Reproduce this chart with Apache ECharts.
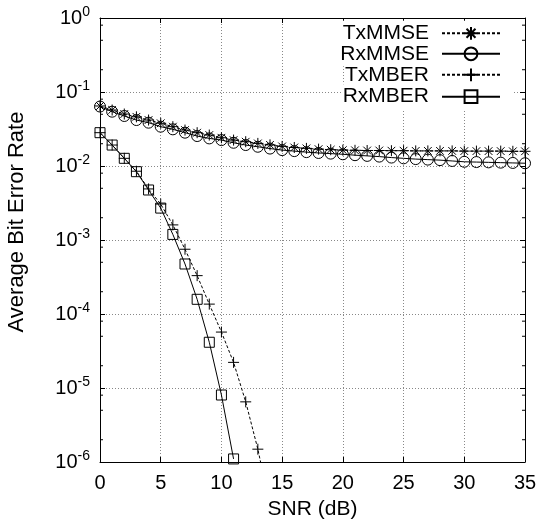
<!DOCTYPE html>
<html><head><meta charset="utf-8">
<script src="https://cdn.jsdelivr.net/npm/echarts@6/dist/echarts.min.js"></script>
<style>html,body{margin:0;padding:0;background:#fff}#c{width:540px;height:526px}</style>
</head><body><div id="c"></div>
<script>
// ---- data ----
const snrMMSE = [0,1,2,3,4,5,6,7,8,9,10,11,12,13,14,15,16,17,18,19,20,21,22,23,24,25,26,27,28,29,30,31,32,33,34,35];
const txMMSE = [0.0647,0.0571,0.0504,0.0462,0.0418,0.0378,0.0340,0.0306,0.0282,0.0262,0.0241,0.0224,0.0213,0.0202,0.0193,0.0184,0.0178,0.0173,0.0169,0.0166,0.0164,0.0163,0.0162,0.0162,0.0161,0.0161,0.0160,0.0160,0.0160,0.0160,0.0159,0.0159,0.0159,0.0159,0.0158,0.0158];
const rxMMSE = [0.0636,0.0542,0.0474,0.0418,0.0385,0.0340,0.0313,0.0282,0.0254,0.0236,0.0224,0.0206,0.0192,0.0182,0.0172,0.0164,0.0159,0.0154,0.0150,0.0147,0.0144,0.0140,0.0137,0.0134,0.0130,0.0127,0.0124,0.0122,0.0120,0.0117,0.0114,0.0113,0.0112,0.0111,0.0110,0.0109];
const snrTxMBER = [0,1,2,3,4,5,6,7,8,9,10,11,12,13,14];
const txMBER = [0.0282,0.0192,0.0127,0.0085,0.0049,0.00306,0.0016,0.00075,0.00033,0.000136,0.000057,0.0000222,0.0000065,0.00000149,0.00000025];
const snrRxMBER = [0,1,2,3,4,5,6,7,8,9,10,11];
const rxMBER = [0.0282,0.0192,0.0127,0.00838,0.00474,0.0027,0.00119,0.000474,0.000158,0.0000415,0.00000804,0.0000011];
const seriesNames = ['TxMMSE','RxMMSE','TxMBER','RxMBER'];
const xTickMin = 0, xTickMax = 35, xTickStep = 5;
const yMin = 1e-6, yMax = 1;
const minorTickValues = [2e-6,5e-6,8e-6,2e-5,5e-5,8e-5,2e-4,5e-4,8e-4,2e-3,5e-3,8e-3,2e-2,5e-2,8e-2,2e-1,5e-1,8e-1];

const FONT = 'Liberation Sans, Arial, Helvetica, sans-serif';
const pair = (xs, ys) => xs.map((x, i) => [x, ys[i]]);
const sym = {
  star: 'path://M5 0L5 10M0 5L10 5M1.5 1.5L8.5 8.5M1.5 8.5L8.5 1.5',
  plus: 'path://M5 0L5 10M0 5L10 5',
  square: 'path://M0 0L10 0L10 10L0 10Z'
};
const markStyle = {color: 'none', borderColor: '#000', borderWidth: 1};

const chart = echarts.init(document.getElementById('c'), null, {renderer: 'canvas'});
const legendCenters = [33.3, 53.8, 74.8, 96.7];
const legends = seriesNames.map((n, i) => ({
  data: [n], orient: 'vertical', align: 'right', right: 28,
  top: legendCenters[i] - 12.5, padding: [2, 11, 2, 1],
  itemWidth: 58, itemHeight: 16, selectedMode: false,
  backgroundColor: '#fff',
  textStyle: {fontSize: 21, fontFamily: FONT, color: '#000', padding: [0, 8, 0, 0]}
}));

const axisCommonX = {
  type: 'value', min: xTickMin, max: xTickMax, interval: xTickStep,
  axisLine: {show: true, onZero: false, lineStyle: {color: '#000', width: 1}},
  axisTick: {show: true, inside: true, length: 5, lineStyle: {color: '#000'}}
};
const axisCommonY = {
  type: 'log', logBase: 10, min: yMin, max: yMax, splitNumber: 6,
  axisLine: {show: true, onZero: false, lineStyle: {color: '#000', width: 1}},
  axisTick: {show: true, inside: true, length: 5, lineStyle: {color: '#000'}}
};

const option = {
  animation: false,
  backgroundColor: '#fff',
  grid: {left: 100, right: 15, top: 18, bottom: 64, containLabel: false, outerBoundsMode: 'none'},
  legend: legends,
  xAxis: [
    Object.assign({}, axisCommonX, {
      position: 'bottom',
      axisLabel: {fontSize: 20, fontFamily: FONT, color: '#000', margin: 11},
      splitLine: {show: true, lineStyle: {color: '#888', type: [1, 2], width: 1}},
      name: 'SNR (dB)', nameLocation: 'middle', nameGap: 37,
      nameTextStyle: {fontSize: 21, fontFamily: FONT, color: '#000'}
    }),
    Object.assign({}, axisCommonX, {
      position: 'top', axisLabel: {show: false}, splitLine: {show: false}
    })
  ],
  yAxis: [
    Object.assign({}, axisCommonY, {
      position: 'left',
      axisLabel: {
        margin: 10, color: '#000',
        formatter: v => '{b|10}{s|' + Math.round(Math.log10(v)) + '}',
        rich: {
          b: {fontSize: 20, fontFamily: FONT, color: '#000'},
          s: {fontSize: 14, fontFamily: FONT, color: '#000', padding: [0, 0, 12, 0]}
        }
      },
      splitLine: {show: true, lineStyle: {color: '#888', type: [1, 2], width: 1}},
      name: 'Average Bit Error Rate', nameLocation: 'middle', nameGap: 72,
      nameTextStyle: {fontSize: 22, fontFamily: FONT, color: '#000', padding: [0, 0, 0, 36]}
    }),
    Object.assign({}, axisCommonY, {
      position: 'right', axisLabel: {show: false}, splitLine: {show: false}
    })
  ],
  series: [
    {
      name: seriesNames[0], type: 'line', data: pair(snrMMSE, txMMSE),
      symbol: sym.star, symbolSize: 11, showAllSymbol: true,
      lineStyle: {color: '#000', width: 1, type: [3, 2]}, itemStyle: markStyle
    },
    {
      name: seriesNames[1], type: 'line', data: pair(snrMMSE, rxMMSE),
      symbol: 'circle', symbolSize: 11, showAllSymbol: true,
      lineStyle: {color: '#000', width: 1, type: 'solid'}, itemStyle: markStyle
    },
    {
      name: seriesNames[2], type: 'line', data: pair(snrTxMBER, txMBER),
      symbol: sym.plus, symbolSize: 11, showAllSymbol: true, clip: true,
      lineStyle: {color: '#000', width: 1, type: [3, 2]}, itemStyle: markStyle
    },
    {
      name: seriesNames[3], type: 'line', data: pair(snrRxMBER, rxMBER),
      symbol: sym.square, symbolSize: 10, showAllSymbol: true,
      lineStyle: {color: '#000', width: 1, type: 'solid'}, itemStyle: markStyle
    },
    {
      type: 'custom', silent: true, clip: false, z: 3,
      data: minorTickValues.map(v => [xTickMin, v]),
      renderItem: (params, api) => {
        const v = api.value(1);
        const pl = api.coord([xTickMin, v]);
        const pr = api.coord([xTickMax, v]);
        return {type: 'group', children: [
          {type: 'line', shape: {x1: pl[0], y1: pl[1], x2: pl[0] + 3, y2: pl[1]}, style: {stroke: '#000', lineWidth: 1}},
          {type: 'line', shape: {x1: pr[0] - 3, y1: pr[1], x2: pr[0], y2: pr[1]}, style: {stroke: '#000', lineWidth: 1}}
        ]};
      }
    }
  ]
};
chart.setOption(option);
</script></body></html>
